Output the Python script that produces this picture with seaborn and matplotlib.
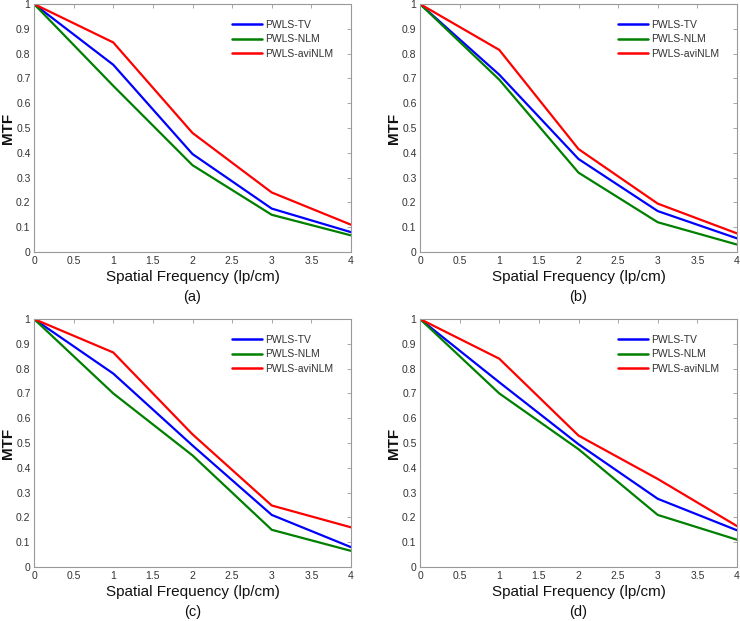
import numpy as np
import pandas as pd
import matplotlib
matplotlib.use("Agg")
import matplotlib.pyplot as plt
import seaborn as sns

freq = [0, 1, 2, 3, 4]
methods = ["PWLS-TV", "PWLS-NLM", "PWLS-aviNLM"]
panel_labels = ["(a)", "(b)", "(c)", "(d)"]

tv_a = [1.0, 0.755, 0.395, 0.175, 0.080]
nlm_a = [1.0, 0.670, 0.350, 0.150, 0.067]
avi_a = [1.0, 0.845, 0.480, 0.240, 0.110]

tv_b = [1.0, 0.715, 0.375, 0.165, 0.055]
nlm_b = [1.0, 0.695, 0.320, 0.120, 0.030]
avi_b = [1.0, 0.815, 0.415, 0.195, 0.075]

tv_c = [1.0, 0.780, 0.490, 0.210, 0.080]
nlm_c = [1.0, 0.700, 0.450, 0.150, 0.065]
avi_c = [1.0, 0.865, 0.535, 0.248, 0.160]

tv_d = [1.0, 0.745, 0.495, 0.275, 0.148]
nlm_d = [1.0, 0.700, 0.475, 0.210, 0.110]
avi_d = [1.0, 0.840, 0.530, 0.355, 0.165]

panels = [(tv_a, nlm_a, avi_a), (tv_b, nlm_b, avi_b),
          (tv_c, nlm_c, avi_c), (tv_d, nlm_d, avi_d)]

sns.set_style("white")
plt.rcParams["font.family"] = ["Liberation Sans", "DejaVu Sans"]

palette = {"PWLS-TV": "#0000ff", "PWLS-NLM": "#008000", "PWLS-aviNLM": "#ff0000"}

fig = plt.figure(figsize=(7.4, 6.21), dpi=100)
W, H = 740, 621
boxes = [(34, 4, 351, 252), (420, 4, 737, 252), (34, 319, 351, 567), (420, 319, 737, 567)]

for (tv, nlm, avi), lab, (x0, y0, x1, y1) in zip(panels, panel_labels, boxes):
    ax = fig.add_axes([x0 / W, (H - y1) / H, (x1 - x0) / W, (y1 - y0) / H])
    rows = []
    for m, vals in zip(methods, (tv, nlm, avi)):
        for f, v in zip(freq, vals):
            rows.append({"freq": f, "MTF": v, "method": m})
    df = pd.DataFrame(rows)
    sns.lineplot(data=df, x="freq", y="MTF", hue="method", hue_order=methods,
                 palette=palette, linewidth=1.6, ax=ax, legend=True)
    ax.set_xlim(0, 4)
    ax.set_ylim(0, 1)
    ax.set_xticks(np.arange(0, 4.01, 0.5))
    ax.set_xticklabels(["0", "0.5", "1", "1.5", "2", "2.5", "3", "3.5", "4"])
    ax.set_yticks(np.arange(0, 1.01, 0.1))
    ax.set_yticklabels(["0", "0.1", "0.2", "0.3", "0.4", "0.5", "0.6", "0.7", "0.8", "0.9", "1"])
    ax.tick_params(direction="in", length=3, width=0.6, colors="#999999",
                   labelcolor="#333333", labelsize=7.5, top=True, right=True, pad=3)
    ax.tick_params(axis="y", pad=2.5)
    for s in ax.spines.values():
        s.set_color("#999999")
        s.set_linewidth(0.8)
    ax.set_xlabel("Spatial Frequency (lp/cm)", fontsize=11, labelpad=3, color="#111111")
    ax.set_ylabel("MTF", fontsize=11, fontweight="bold", labelpad=0.5, color="#111111")
    ax.text(0.5, -0.182, lab, transform=ax.transAxes, ha="center", va="center",
            fontsize=10.5, color="#111111")
    leg = ax.legend(loc="upper right", bbox_to_anchor=(0.975, 0.975), frameon=False,
                    fontsize=7.5, handlelength=2.9, handletextpad=0.35,
                    labelspacing=0.45, borderaxespad=0.5)
    for t in leg.get_texts():
        t.set_color("#333333")
    for l in leg.get_lines():
        l.set_linewidth(1.8)

fig.savefig("out.png", dpi=100)
